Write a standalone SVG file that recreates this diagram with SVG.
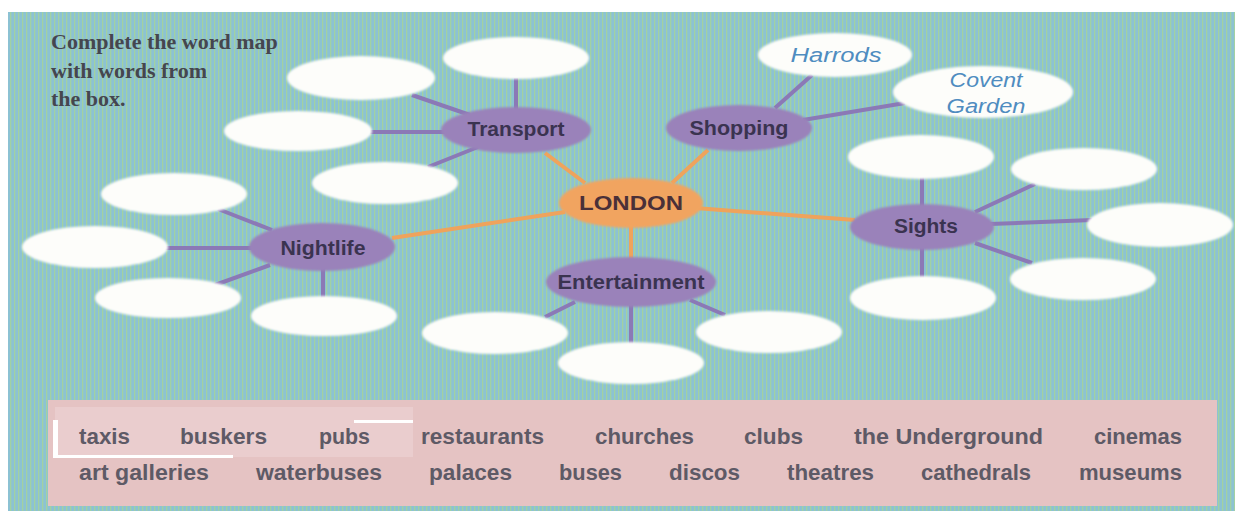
<svg xmlns="http://www.w3.org/2000/svg" width="1235" height="511" viewBox="0 0 1235 511">
<defs>
<pattern id="stripes" width="4" height="8" patternUnits="userSpaceOnUse">
<rect width="4" height="8" fill="#92c7c4"/>
<rect x="0" width="2" height="8" fill="#8cc2d3"/>
<rect x="2" y="0" width="1" height="8" fill="#a2d1a2"/>
</pattern>
<filter id="soft" x="-10%" y="-20%" width="120%" height="140%"><feGaussianBlur stdDeviation="0.9"/></filter>
</defs>
<style>
.blank{fill:#fdfdfa;filter:url(#soft)}
.cat{fill:#9a82ba;filter:url(#soft)}
.hub{fill:#f1a460;filter:url(#soft)}
.lab{font-family:"Liberation Sans",Arial,sans-serif;font-size:19.5px;font-weight:bold;fill:#3a3350;text-anchor:middle}
.hand{font-family:"Liberation Sans",Arial,sans-serif;font-style:italic;font-size:20px;fill:#4f8cc0;text-anchor:middle}
.pl{stroke:#8b79b6;stroke-width:4;fill:none}
.ol{stroke:#efa35c;stroke-width:4;fill:none}
.word{font-family:"Liberation Sans",Arial,sans-serif;font-size:22px;font-weight:bold;fill:#5e5a66}
.title{font-family:"Liberation Serif","Times New Roman",serif;font-size:22px;font-weight:bold;fill:#45464f}
</style>
<rect width="1235" height="511" fill="#ffffff"/>
<rect x="8" y="12" width="1227" height="499" fill="url(#stripes)"/>
<g id="title">
<text class="title" x="51" y="49">Complete the word map</text>
<text class="title" x="51" y="78">with words from</text>
<text class="title" x="51" y="106">the box.</text>
</g>
<g id="connectors">
<line class="ol" x1="545" y1="153" x2="585" y2="183"/>
<line class="ol" x1="708" y1="150" x2="672" y2="183"/>
<line class="ol" x1="392" y1="238" x2="565" y2="212"/>
<line class="ol" x1="695" y1="208" x2="855" y2="220"/>
<line class="ol" x1="631" y1="225" x2="631" y2="260"/>
<line class="pl" x1="516" y1="78" x2="516" y2="110"/>
<line class="pl" x1="412" y1="95" x2="470" y2="115"/>
<line class="pl" x1="370" y1="132" x2="445" y2="132"/>
<line class="pl" x1="428" y1="167" x2="478" y2="147"/>
<line class="pl" x1="218" y1="209" x2="272" y2="230"/>
<line class="pl" x1="165" y1="248" x2="252" y2="248"/>
<line class="pl" x1="215" y1="285" x2="270" y2="265"/>
<line class="pl" x1="323" y1="268" x2="323" y2="298"/>
<line class="pl" x1="545" y1="317" x2="575" y2="302"/>
<line class="pl" x1="631" y1="305" x2="631" y2="345"/>
<line class="pl" x1="690" y1="300" x2="725" y2="315"/>
<line class="pl" x1="775" y1="108" x2="812" y2="75"/>
<line class="pl" x1="803" y1="120" x2="905" y2="103"/>
<line class="pl" x1="922" y1="175" x2="922" y2="207"/>
<line class="pl" x1="975" y1="212" x2="1035" y2="184"/>
<line class="pl" x1="990" y1="224" x2="1092" y2="220"/>
<line class="pl" x1="975" y1="243" x2="1032" y2="263"/>
<line class="pl" x1="922" y1="247" x2="922" y2="278"/>
</g>
<g id="london"><ellipse class="hub" cx="631" cy="203" rx="72" ry="25"/><text class="lab" x="631" y="210" fill="#4a3038" style="fill:#4a3038" textLength="104" lengthAdjust="spacingAndGlyphs">LONDON</text></g>
<g id="transport"><ellipse class="cat" cx="516" cy="130" rx="75" ry="23"/><text class="lab" x="516" y="136" textLength="97" lengthAdjust="spacingAndGlyphs">Transport</text></g>
<g id="transport-1"><ellipse class="blank" cx="516" cy="58" rx="73" ry="21"/></g>
<g id="transport-2"><ellipse class="blank" cx="361" cy="78" rx="74" ry="22"/></g>
<g id="transport-3"><ellipse class="blank" cx="298" cy="131" rx="74" ry="20"/></g>
<g id="transport-4"><ellipse class="blank" cx="385" cy="183" rx="73" ry="21"/></g>
<g id="nightlife"><ellipse class="cat" cx="322" cy="247" rx="73" ry="24"/><text class="lab" x="323" y="255" textLength="85" lengthAdjust="spacingAndGlyphs">Nightlife</text></g>
<g id="nightlife-1"><ellipse class="blank" cx="174" cy="194" rx="73" ry="21"/></g>
<g id="nightlife-2"><ellipse class="blank" cx="95" cy="247" rx="73" ry="21"/></g>
<g id="nightlife-3"><ellipse class="blank" cx="168" cy="298" rx="73" ry="20"/></g>
<g id="nightlife-4"><ellipse class="blank" cx="324" cy="316" rx="73" ry="20"/></g>
<g id="entertainment"><ellipse class="cat" cx="631" cy="282" rx="85" ry="25"/><text class="lab" x="631" y="289" textLength="147" lengthAdjust="spacingAndGlyphs">Entertainment</text></g>
<g id="entertainment-1"><ellipse class="blank" cx="495" cy="333" rx="73" ry="21"/></g>
<g id="entertainment-2"><ellipse class="blank" cx="631" cy="363" rx="73" ry="21"/></g>
<g id="entertainment-3"><ellipse class="blank" cx="769" cy="332" rx="73" ry="21"/></g>
<g id="shopping"><ellipse class="cat" cx="739" cy="128" rx="73" ry="23"/><text class="lab" x="739" y="135" textLength="99" lengthAdjust="spacingAndGlyphs">Shopping</text></g>
<g id="harrods"><ellipse class="blank" cx="835" cy="55" rx="77" ry="22"/><text class="hand" x="836" y="62" textLength="91" lengthAdjust="spacingAndGlyphs">Harrods</text></g>
<g id="covent-garden"><ellipse class="blank" cx="983" cy="92" rx="90" ry="26"/><text class="hand" x="986" y="87" textLength="73" lengthAdjust="spacingAndGlyphs">Covent</text><text class="hand" x="986" y="113" textLength="79" lengthAdjust="spacingAndGlyphs">Garden</text></g>
<g id="sights"><ellipse class="cat" cx="922" cy="227" rx="72" ry="23"/><text class="lab" x="926" y="233" textLength="64" lengthAdjust="spacingAndGlyphs">Sights</text></g>
<g id="sights-1"><ellipse class="blank" cx="921" cy="157" rx="73" ry="22"/></g>
<g id="sights-2"><ellipse class="blank" cx="1084" cy="169" rx="73" ry="21"/></g>
<g id="sights-3"><ellipse class="blank" cx="1160" cy="225" rx="73" ry="22"/></g>
<g id="sights-4"><ellipse class="blank" cx="1083" cy="279" rx="73" ry="21"/></g>
<g id="sights-5"><ellipse class="blank" cx="923" cy="298" rx="73" ry="22"/></g>
<g id="word-box">
<rect x="48" y="400" width="1169" height="106" fill="#e5c3c3"/>
<rect x="55" y="407" width="358" height="50" fill="#eacdce"/>
<rect x="53" y="420" width="5" height="37" fill="#ffffff"/>
<rect x="53" y="455" width="180" height="3" fill="#ffffff"/>
<rect x="354" y="420" width="59" height="3" fill="#ffffff"/>
<text class="word" x="79" y="444" textLength="51" lengthAdjust="spacingAndGlyphs">taxis</text>
<text class="word" x="180" y="444" textLength="87" lengthAdjust="spacingAndGlyphs">buskers</text>
<text class="word" x="319" y="444" textLength="51" lengthAdjust="spacingAndGlyphs">pubs</text>
<text class="word" x="421" y="444" textLength="123" lengthAdjust="spacingAndGlyphs">restaurants</text>
<text class="word" x="595" y="444" textLength="99" lengthAdjust="spacingAndGlyphs">churches</text>
<text class="word" x="744" y="444" textLength="59" lengthAdjust="spacingAndGlyphs">clubs</text>
<text class="word" x="854" y="444" textLength="189" lengthAdjust="spacingAndGlyphs">the Underground</text>
<text class="word" x="1094" y="444" textLength="88" lengthAdjust="spacingAndGlyphs">cinemas</text>
<text class="word" x="79" y="480" textLength="130" lengthAdjust="spacingAndGlyphs">art galleries</text>
<text class="word" x="256" y="480" textLength="126" lengthAdjust="spacingAndGlyphs">waterbuses</text>
<text class="word" x="429" y="480" textLength="83" lengthAdjust="spacingAndGlyphs">palaces</text>
<text class="word" x="559" y="480" textLength="63" lengthAdjust="spacingAndGlyphs">buses</text>
<text class="word" x="669" y="480" textLength="71" lengthAdjust="spacingAndGlyphs">discos</text>
<text class="word" x="787" y="480" textLength="87" lengthAdjust="spacingAndGlyphs">theatres</text>
<text class="word" x="921" y="480" textLength="110" lengthAdjust="spacingAndGlyphs">cathedrals</text>
<text class="word" x="1079" y="480" textLength="103" lengthAdjust="spacingAndGlyphs">museums</text>
</g>
</svg>
